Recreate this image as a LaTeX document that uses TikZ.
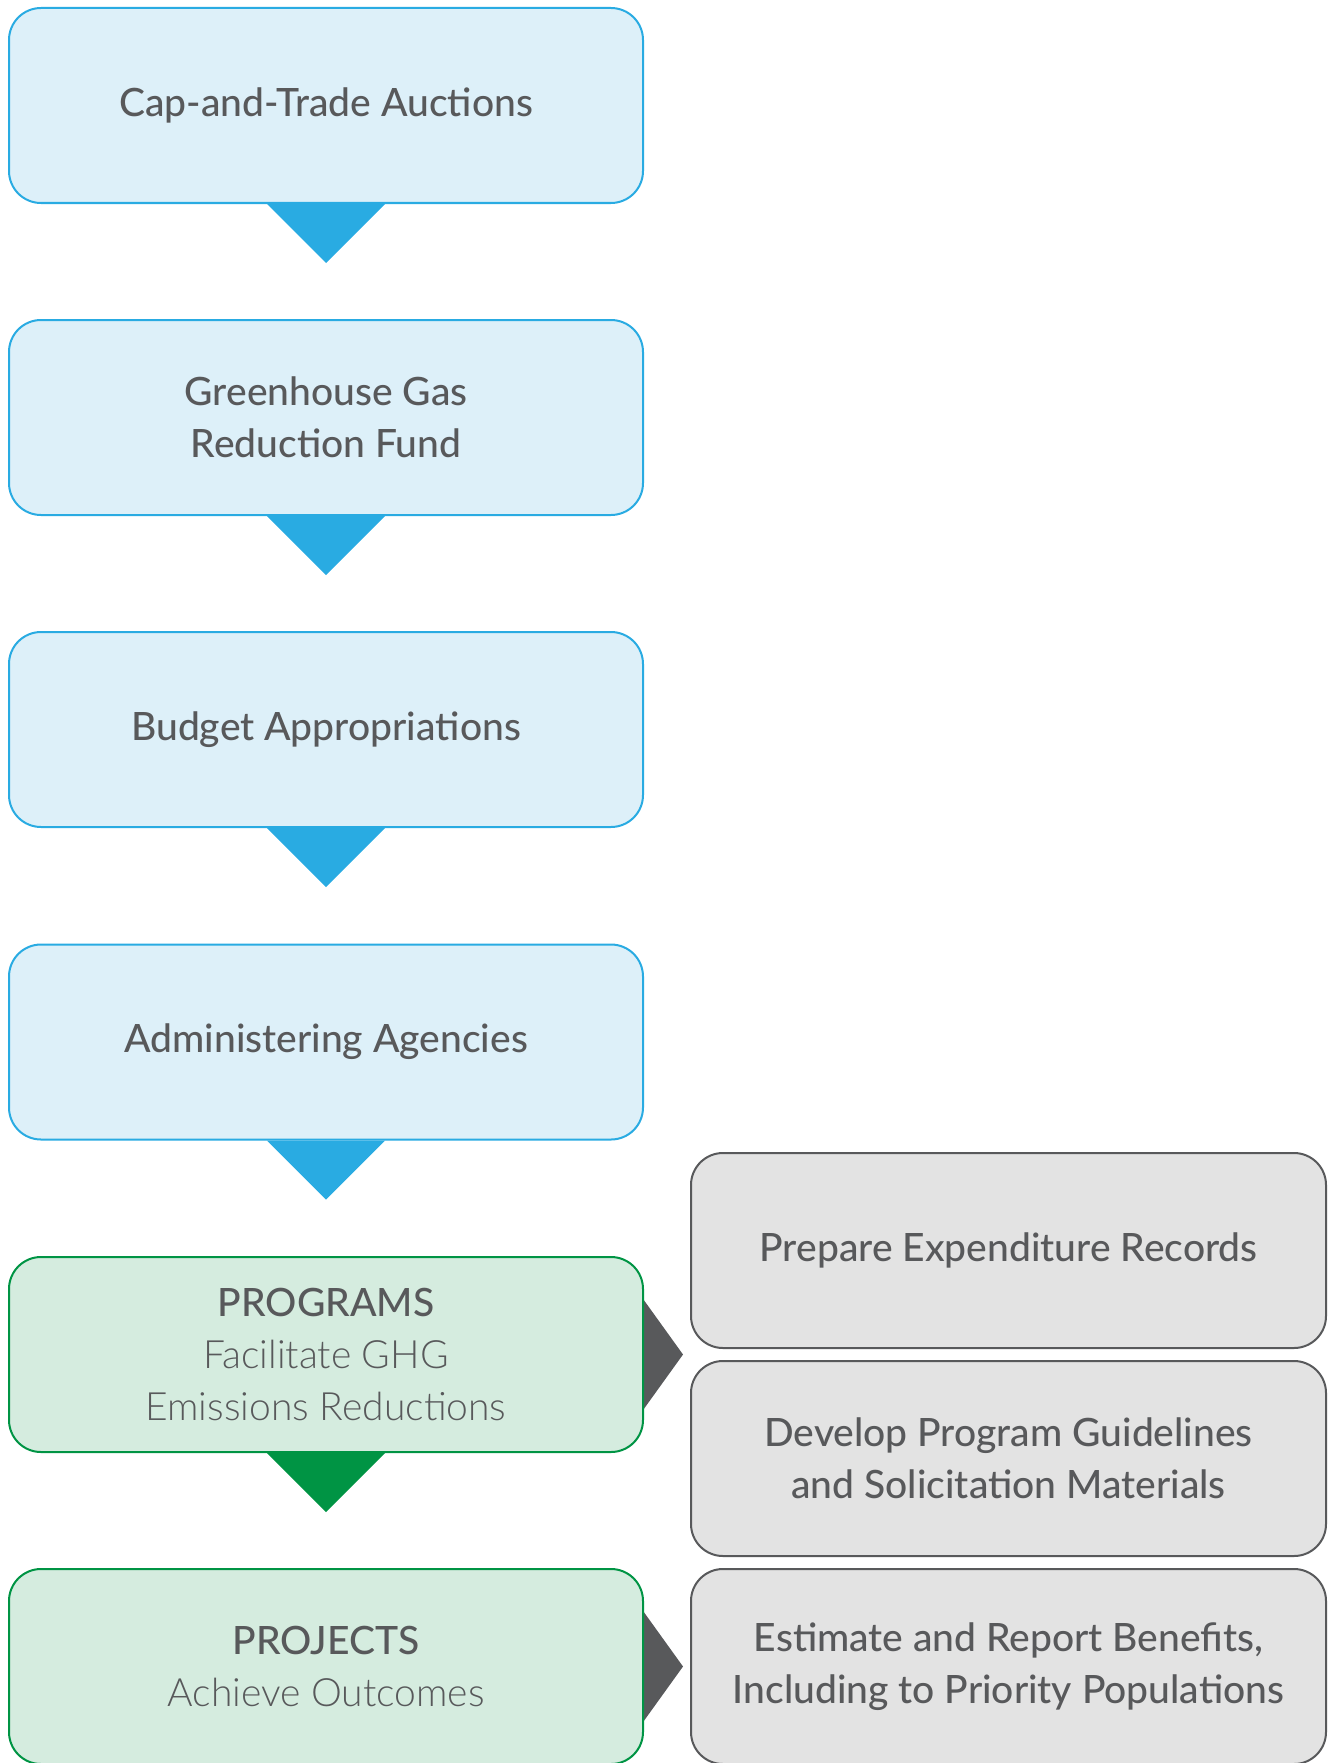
\documentclass[tikz,border=0pt]{standalone}
\usepackage{fontspec}
\setmainfont{Lato Medium}
\newfontfamily\lightfont{Lato Light}
\usetikzlibrary{backgrounds,calc}

\definecolor{txtgray}{HTML}{58595B}
\definecolor{blueedge}{HTML}{29ABE2}
\definecolor{bluefill}{HTML}{DDF0F9}
\definecolor{greenedge}{HTML}{009444}
\definecolor{greenfill}{HTML}{D5ECDF}
\definecolor{grayfill}{HTML}{E3E3E3}

\tikzset{
  stepbox/.style={draw, rounded corners=32pt, line width=2pt, minimum width=634pt,
    minimum height=195pt, inner sep=0pt, align=center, text=txtgray,
    font=\fontsize{39}{52}\selectfont},
  bluebox/.style={stepbox, draw=blueedge, fill=bluefill},
  greenbox/.style={stepbox, draw=greenedge, fill=greenfill},
  graybox/.style={stepbox, draw=txtgray, fill=grayfill, minimum width=635pt},
}

\begin{document}
\begin{tikzpicture}[x=1pt,y=1pt,yscale=-1,xscale=1]
  \useasboundingbox (0,0) rectangle (1333,1763);

  % Rounded Rect
  \node [bluebox] (cap) at (326,105.5) {Cap-and-Trade Auctions};
  % Rounded Rect
  \node [bluebox] (fund) at (326,417.5) {Greenhouse Gas\\Reduction Fund};
  % Rounded Rect
  \node [bluebox] (budget) at (326,729.5) {Budget Appropriations};
  % Rounded Rect
  \node [bluebox] (agency) at (326,1042) {Administering Agencies};
  % Rounded Rect
  \node [greenbox] (programs) at (326,1354.5) {PROGRAMS\\{\lightfont Facilitate GHG}\\{\lightfont Emissions Reductions}};
  % Rounded Rect
  \node [greenbox] (projects) at (326,1666.5) {PROJECTS\\{\lightfont Achieve Outcomes}};

  % Rounded Rect
  \node [graybox] (records) at (1008.5,1250.5) {Prepare Expenditure Records};
  % Rounded Rect
  \node [graybox] (guidelines) at (1008.5,1458.5) {Develop Program Guidelines\\and Solicitation Materials};
  % Rounded Rect
  \node [graybox] (benefits) at (1008.5,1666.5) {Estimate and Report Benefits,\\Including to Priority Populations};

  \begin{scope}[on background layer]
    % Triangles
    \fill [blueedge] ($(cap.south)+(-59,0)$) -- ($(cap.south)+(59,0)$) -- ($(cap.south)+(0,59)$) -- cycle;
    \fill [blueedge] ($(fund.south)+(-59,0)$) -- ($(fund.south)+(59,0)$) -- ($(fund.south)+(0,59)$) -- cycle;
    \fill [blueedge] ($(budget.south)+(-59,0)$) -- ($(budget.south)+(59,0)$) -- ($(budget.south)+(0,59)$) -- cycle;
    \fill [blueedge] ($(agency.south)+(-59,0)$) -- ($(agency.south)+(59,0)$) -- ($(agency.south)+(0,59)$) -- cycle;
    \fill [greenedge] ($(programs.south)+(-59,0)$) -- ($(programs.south)+(59,0)$) -- ($(programs.south)+(0,59)$) -- cycle;
    % Side Triangles
    \fill [txtgray] ($(programs.east)+(-2,-57)$) -- ($(programs.east)+(39,0)$) -- ($(programs.east)+(-2,57)$) -- cycle;
    \fill [txtgray] ($(projects.east)+(-2,-57)$) -- ($(projects.east)+(39,0)$) -- ($(projects.east)+(-2,57)$) -- cycle;
  \end{scope}
\end{tikzpicture}
\end{document}
